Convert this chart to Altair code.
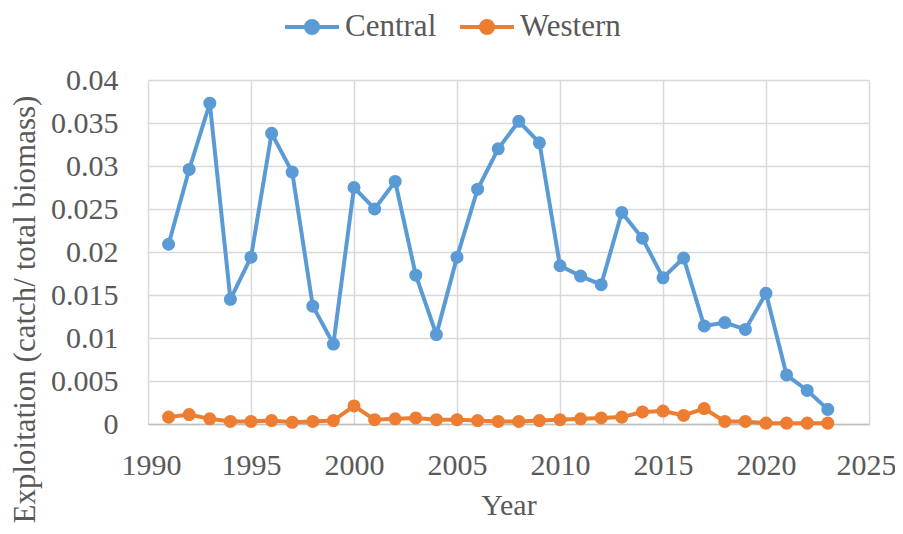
import altair as alt
import pandas as pd

years = list(range(1991, 2024))
central = [0.0209, 0.0296, 0.0373, 0.0145, 0.0194, 0.0338, 0.0293, 0.0137, 0.0093,
           0.0275, 0.0250, 0.0282, 0.0173, 0.0104, 0.0194, 0.0273, 0.0320, 0.0352,
           0.0327, 0.0184, 0.0172, 0.0162, 0.0246, 0.0216, 0.0170, 0.0193, 0.0114,
           0.0118, 0.0110, 0.0152, 0.0057, 0.0039, 0.0017]
western = [0.0008, 0.0011, 0.0006, 0.0003, 0.0003, 0.0004, 0.0002, 0.0003, 0.0004,
           0.0021, 0.0005, 0.0006, 0.0007, 0.0005, 0.0005, 0.0004, 0.0003, 0.0003,
           0.0004, 0.0005, 0.0006, 0.0007, 0.0008, 0.0014, 0.0015, 0.0010, 0.0018,
           0.0003, 0.0003, 0.0001, 0.0001, 0.0001, 0.0001]
series = ["Central", "Western"]
colors = ["#5B9BD5", "#ED7D31"]
x_ticks = list(range(1990, 2026, 5))
y_ticks = [0, 0.005, 0.01, 0.015, 0.02, 0.025, 0.03, 0.035, 0.04]

df = pd.DataFrame({
    "Year": years * 2,
    "Value": central + western,
    "Series": ["Central"] * len(years) + ["Western"] * len(years),
})

FONT = "Liberation Serif"
TXT = "#595959"

def ring(r):
    return f"M{r},0A{r},{r},0,1,1,{-r},0A{r},{r},0,1,1,{r},0"

# legend symbol: a line with a dot, drawn from strokes only
sym = "M-1.8,0L1.8,0" + ring(0.133) + ring(0.267) + ring(0.4)

color = alt.Color(
    "Series:N",
    scale=alt.Scale(domain=series, range=colors),
    legend=alt.Legend(
        title=None, orient="none", direction="horizontal",
        legendX=147, legendY=-70, padding=0,
        symbolType=sym, symbolSize=900, symbolStrokeWidth=4,
        labelFont=FONT, labelFontSize=31, labelColor=TXT,
        labelOffset=16, columnPadding=15, symbolOpacity=1,
    ),
)

axis_common = dict(
    labelFont=FONT, titleFont=FONT, labelFontSize=30,
    labelColor=TXT, titleColor=TXT, titleFontWeight="normal",
    gridColor="#d9d9d9", gridWidth=1.5, ticks=False,
    domainColor="#bfbfbf", domainWidth=1.5,
    labelOverlap=False,
)

x = alt.X("Year:Q",
          scale=alt.Scale(domain=[1990, 2025], nice=False, zero=False),
          axis=alt.Axis(values=x_ticks, format="d",
                        title="Year", titlePadding=10, titleFontSize=30,
                        labelPadding=26, labelFlush=True, labelFlushOffset=27,
                        **axis_common))
y = alt.Y("Value:Q",
          scale=alt.Scale(domain=[0, 0.04], nice=False),
          axis=alt.Axis(values=y_ticks,
                        format="~g", title="Exploitation (catch/ total biomass)",
                        titlePadding=9, titleY=229, titleFontSize=31,
                        labelPadding=30, labelFlush=False, domain=False,
                        **axis_common))

base = alt.Chart(df)
lines = base.mark_line(strokeWidth=4).encode(x=x, y=y, color=color)
points = base.mark_point(filled=True, size=170, opacity=1).encode(
    x="Year:Q", y="Value:Q", color=alt.Color("Series:N", legend=None,
                                             scale=alt.Scale(domain=series, range=colors)))

chart = (lines + points).properties(
    width=721, height=344,
    autosize=alt.AutoSizeParams(type="none"),
    padding={"left": 140, "top": 72, "right": 26, "bottom": 102},
).configure_view(
    stroke=None
)

chart.save("out.html", embed_options={"renderer": "svg", "actions": False})
